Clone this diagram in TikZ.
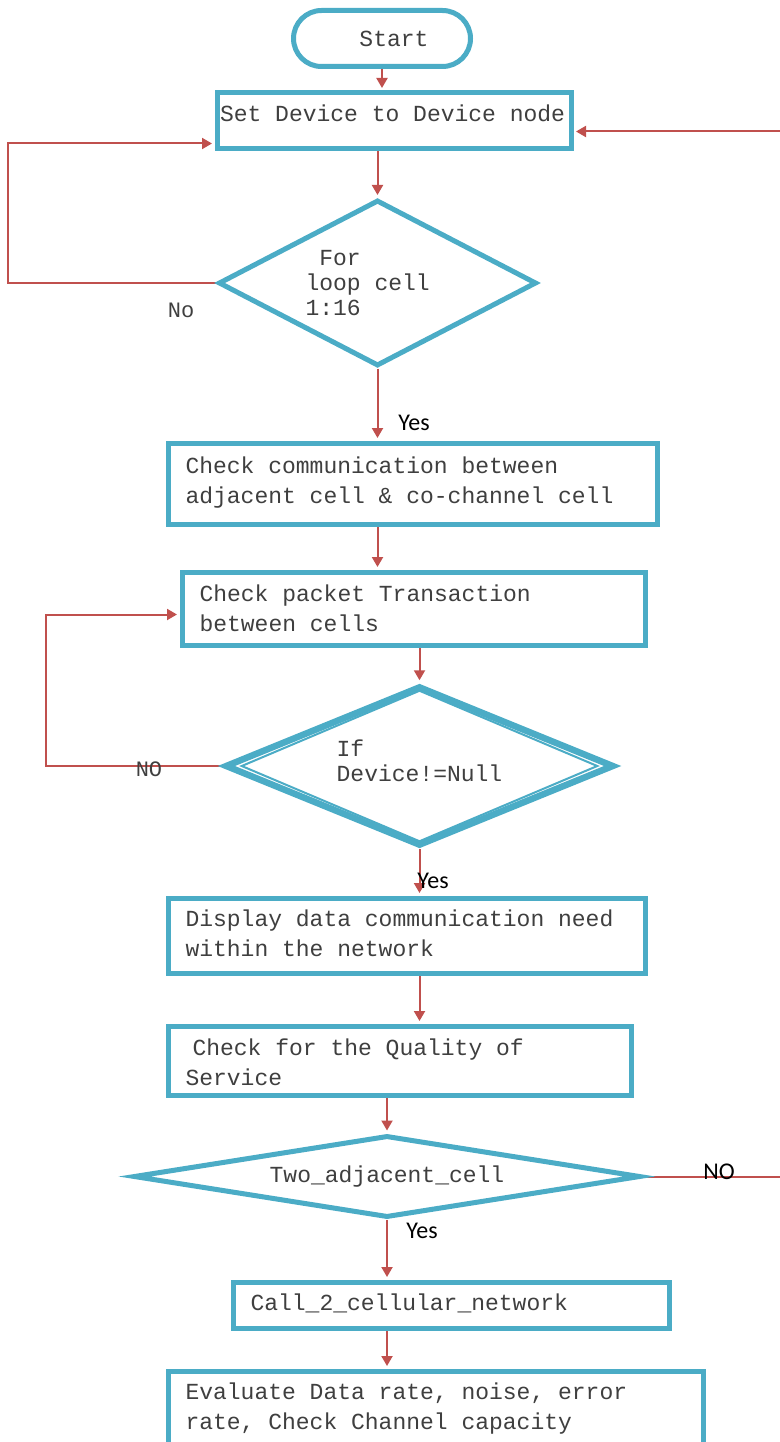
\documentclass[tikz,border=0pt]{standalone}
\usepackage{fontspec}
\setmonofont{Liberation Mono}
\newfontfamily\labelfont{Carlito}
\usepackage{tikz}
\usetikzlibrary{positioning,shapes.geometric,arrows.meta,calc,backgrounds}

\definecolor{flowblue}{HTML}{4BACC6}
\definecolor{flowred}{HTML}{C0504D}
\definecolor{flowgrey}{HTML}{3F3F3F}

\tikzset{
	terminal/.style={draw=flowblue, line width=5pt, fill=white, rectangle, rounded corners=28pt, minimum width=177pt, minimum height=56pt, text=flowgrey, font=\ttfamily\fontsize{23}{29.5}\selectfont},
	process/.style={draw=flowblue, line width=5pt, fill=white, rectangle, anchor=north west, align=flush left, inner ysep=0pt, inner xsep=17.5pt, text=flowgrey, font=\ttfamily\fontsize{23}{29.5}\selectfont},
	decision/.style={draw=flowblue, line width=5pt, fill=white, diamond, inner sep=0pt, align=flush left, text=flowgrey, font=\ttfamily\fontsize{23}{25}\selectfont},
	flow/.style={draw=flowred, line width=2pt},
	flowarrow/.style={flow, -{Triangle[length=10pt, width=11pt]}, shorten >=2.5pt},
	monolabel/.style={inner sep=0pt, text=flowgrey, font=\ttfamily\fontsize{22}{26}\selectfont},
	sanslabel/.style={inner sep=0pt, text=black, font=\labelfont\fontsize{24}{28}\selectfont}
}

\begin{document}
\begin{tikzpicture}[x=1pt, y=-1pt]
	\useasboundingbox (0,0) rectangle (779,1442);
	\clip (0,0) rectangle (779,1442);

	% Instances/Symbols:
	\node[terminal] (start) at (382,38.5) {\hspace*{24pt}Start};
	\node[process, inner xsep=3pt, text width=348pt, text height=28.5pt, text depth=27.5pt] (setdev) at (214.5,90.5) {Set Device to Device node};
	\node[decision, minimum width=318pt, minimum height=166pt, aspect=1.9] (cellloop) at (377.5,283) {~For\\\makebox[144pt][l]{loop cell}\\1:16};
	\node[process, text width=454pt, text height=30.5pt, text depth=50.5pt] (commcheck) at (165.5,440.5) {Check communication between\\adjacent cell \& co-channel cell};
	\node[process, text width=428pt, text height=29.5pt, text depth=43.5pt] (pktcheck) at (179.5,569.5) {Check packet Transaction\\between cells};
	\node[decision, line width=6.5pt, minimum width=389pt, minimum height=160pt, aspect=2.4] (nullcheck) at (419.5,766) {If\\Device!=Null\\[-14pt]};
	\node[process, text width=442pt, text height=28.5pt, text depth=46.5pt] (display) at (165.5,895.5) {Display data communication need\\within the network};
	\node[process, text width=428pt, text height=29.5pt, text depth=39.5pt] (qos) at (165.5,1023.5) {\hspace*{7pt}Check for the Quality of\\Service};
	\node[decision, minimum width=507pt, minimum height=82pt, aspect=6.2] (adjcheck) at (387,1176.5) {Two\_adjacent\_cell};
	\node[process, text width=401pt, text height=28.5pt, text depth=17.5pt] (callnet) at (230.5,1279.5) {Call\_2\_cellular\_network};
	\node[process, text width=500pt, text height=28.5pt, text depth=90pt] (evaluate) at (165.5,1368.5) {Evaluate Data rate, noise, error\\rate, Check Channel capacity};

	% inner outline of the double diamond
	\draw[flowblue, line width=2pt] ($(nullcheck.north)+(0,8)$) -- ($(nullcheck.east)+(-20,0)$) -- ($(nullcheck.south)+(0,-8)$) -- ($(nullcheck.west)+(20,0)$) -- cycle;

	% Return points:
	\coordinate (cellret) at (8,283);
	\coordinate (nullret) at (46,766);
	\coordinate (adjret) at (800,1176.5);

	% Lines:
	\begin{scope}[on background layer]
		\draw[flowarrow] (start.south) -- (start.south |- setdev.north);
		\draw[flowarrow] (setdev.south -| cellloop.north) -- (cellloop.north);
		\draw[flowarrow] (cellloop.south) -- (cellloop.south |- commcheck.north);
		\draw[flowarrow] (commcheck.south -| cellloop.south) -- (pktcheck.north -| cellloop.south);
		\draw[flowarrow] (pktcheck.south -| nullcheck.north) -- (nullcheck.north);
		\draw[flowarrow] (nullcheck.south) -- (nullcheck.south |- display.north);
		\draw[flowarrow] (display.south -| nullcheck.south) -- (qos.north -| nullcheck.south);
		\draw[flowarrow] (qos.south -| adjcheck.north) -- (adjcheck.north);
		\draw[flowarrow] (adjcheck.south) -- (adjcheck.south |- callnet.north);
		\draw[flowarrow] (callnet.south -| adjcheck.south) -- (evaluate.north -| adjcheck.south);
		\draw[flowarrow] (cellloop.west) -- (cellret) |- ([yshift=-22.5pt]setdev.west);
		\draw[flowarrow] (nullcheck.west) -- (nullret) |- ([yshift=-6pt]pktcheck.west);
		\draw[flowarrow] (adjcheck.east) -- (adjret) |- ([yshift=-10.5pt]setdev.east);
	\end{scope}

	% Labels:
	\node[monolabel] (cellno) at (181,310) {No};
	\node[sanslabel] (cellyes) at (414,423) {Yes};
	\node[monolabel] (nullno) at (149,769) {NO};
	\node[sanslabel] (nullyes) at (433,881) {Yes};
	\node[sanslabel] (adjno) at (719,1172) {NO};
	\node[sanslabel] (adjyes) at (422,1231) {Yes};

\end{tikzpicture}
\end{document}
